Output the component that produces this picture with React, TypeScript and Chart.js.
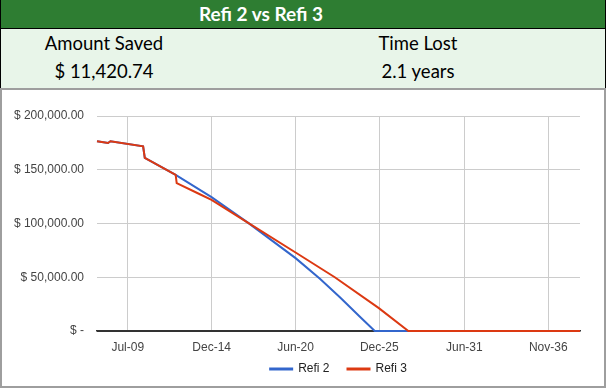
import React, { useEffect, useRef } from "react";
import { Chart, registerables } from "chart.js";

Chart.register(...registerables);

// Months counted from Jan 2000 (0 = Jan-00)
const refi2Months = [90, 98.6, 100.5, 126, 127.3, 151.4, 179.4, 208, 245, 264, 280, 295, 306.8, 467];
const refi2Values = [176500, 174900, 176500, 171800, 161000, 145300, 124500, 100600, 67800, 48500, 31000, 13500, 0, 0];

const refi3Months = [90, 98.6, 100.5, 126, 127.3, 151.4, 152.2, 170.3, 179.4, 208, 245, 275.6, 310, 333, 467];
const refi3Values = [176500, 174900, 176500, 171800, 161000, 145300, 137500, 127200, 122000, 100600, 73000, 50000, 21300, 0, 0];

const xTickMonths = [114, 179.5, 245, 310.3, 376.7, 442.2];
const xTickLabels = ["Jul-09", "Dec-14", "Jun-20", "Dec-25", "Jun-31", "Nov-36"];

const yTickValues = [0, 50000, 100000, 150000, 200000];
const yTickLabels = ["$ -", "$ 50,000.00", "$ 100,000.00", "$ 150,000.00", "$ 200,000.00"];

const seriesNames = ["Refi 2", "Refi 3"];
const seriesColors = ["#3366cc", "#dc3912"];

const headerTitle = "Refi 2 vs Refi 3";
const leftLabel = "Amount Saved";
const leftValue = "$ 11,420.74";
const rightLabel = "Time Lost";
const rightValue = "2.1 years";

const FONT = "Arial, 'Liberation Sans', sans-serif";
const HFONT = "Lato, 'Open Sans', sans-serif";

export default function App() {
  const canvasRef = useRef<HTMLCanvasElement | null>(null);

  useEffect(() => {
    const canvas = canvasRef.current;
    if (!canvas) return;
    const chart = new Chart(canvas, {
      type: "line",
      data: {
        datasets: [
          {
            label: seriesNames[0],
            data: refi2Months.map((m, i) => ({ x: m, y: refi2Values[i] })),
            borderColor: seriesColors[0],
            backgroundColor: seriesColors[0],
            borderWidth: 2,
            pointRadius: 0,
            tension: 0,
            clip: false,
            order: 1,
          },
          {
            label: seriesNames[1],
            data: refi3Months.map((m, i) => ({ x: m, y: refi3Values[i] })),
            borderColor: seriesColors[1],
            backgroundColor: seriesColors[1],
            borderWidth: 2,
            pointRadius: 0,
            tension: 0,
            clip: false,
            order: 0,
          },
        ],
      },
      options: {
        responsive: false,
        animation: false,
        events: [],
        layout: { padding: { left: 0, right: 24, top: 27, bottom: 1 } },
        scales: {
          x: {
            type: "linear",
            min: 90,
            max: 467,
            afterBuildTicks: (s: any) => {
              s.ticks = xTickMonths.map((v) => ({ value: v }));
            },
            afterFit: (s: any) => {
              s.height = 14;
            },
            grid: { color: "#cccccc", drawTicks: false },
            border: { display: true, color: "#333333", width: 1.5 },
            ticks: {
              mirror: true,
              padding: -24,
              autoSkip: false,
              maxRotation: 0,
              color: "#444444",
              font: { family: FONT, size: 12 },
              callback: (_v: any, i: number) => xTickLabels[i],
            },
          },
          y: {
            min: 0,
            max: 200000,
            afterBuildTicks: (s: any) => {
              s.ticks = yTickValues.map((v) => ({ value: v }));
            },
            afterFit: (s: any) => {
              s.width = 97;
            },
            grid: {
              color: (c: any) => (c.tick && c.tick.value === 0 ? "#333333" : "#cccccc"),
              drawTicks: false,
            },
            border: { display: false },
            ticks: {
              padding: 13,
              color: "#444444",
              font: { family: FONT, size: 12 },
              callback: (_v: any, i: number) => yTickLabels[i],
            },
          },
        },
        plugins: {
          tooltip: { enabled: false },
          legend: {
            position: "bottom",
            fullSize: false,
            labels: {
              boxWidth: 22,
              boxHeight: 1,
              padding: 18,
              color: "#222222",
              font: { family: FONT, size: 12 },
              sort: (a: any, b: any) => a.datasetIndex - b.datasetIndex,
            },
          },
        },
      },
    } as any);
    return () => chart.destroy();
  }, []);

  const txt = (s: string, cx: number, capCenter: number, size: number, bold: boolean, color: string) => (
    <div
      style={{
        position: "absolute",
        left: cx,
        top: capCenter - size * 0.527,
        transform: "translateX(-50%)",
        fontFamily: HFONT,
        fontSize: size,
        lineHeight: `${size}px`,
        fontWeight: bold ? 700 : 400,
        color,
        whiteSpace: "nowrap",
      }}
    >
      {s}
    </div>
  );

  return (
    <div style={{ position: "absolute", left: 0, top: 0, width: 606, height: 388, background: "#ffffff", overflow: "hidden" }}>
      <div
        style={{
          position: "absolute",
          left: 0,
          top: 0,
          width: 606,
          height: 29,
          boxSizing: "border-box",
          background: "#2e7d32",
          borderLeft: "1px solid #000",
          borderRight: "1px solid #000",
          borderBottom: "1px solid #000",
        }}
      />
      <div
        style={{
          position: "absolute",
          left: 0,
          top: 29,
          width: 606,
          height: 59,
          boxSizing: "border-box",
          background: "#e8f5e9",
          borderLeft: "1px solid #000",
          borderRight: "1px solid #000",
        }}
      />
      {txt(headerTitle, 261, 14, 19, true, "#ffffff")}
      {txt(leftLabel, 104, 43.3, 18.5, false, "#000000")}
      {txt(leftValue, 104, 72, 18.5, false, "#000000")}
      {txt(rightLabel, 418, 43.3, 18.5, false, "#000000")}
      {txt(rightValue, 418, 72, 18.5, false, "#000000")}
      <div
        style={{
          position: "absolute",
          left: 0,
          top: 88,
          width: 606,
          height: 300,
          boxSizing: "border-box",
          border: "2px solid #9e9e9e",
          background: "#ffffff",
        }}
      />
      <div style={{ position: "absolute", left: 0, top: 89, width: 604, height: 297 }}>
        <canvas ref={canvasRef} width={604} height={297} style={{ width: 604, height: 297, display: "block" }} />
      </div>
    </div>
  );
}
